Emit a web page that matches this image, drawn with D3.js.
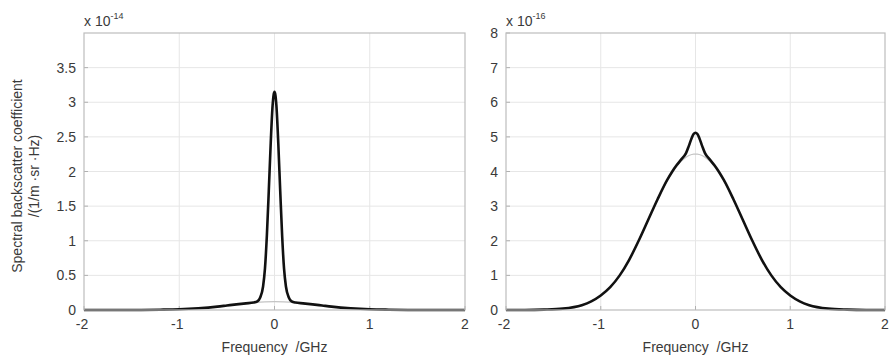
<!DOCTYPE html>
<html>
<head>
<meta charset="utf-8">
<script src="https://cdn.jsdelivr.net/npm/d3@7"></script>
<style>
  body { margin: 0; background: #fff; }
  svg { display: block; font-family: "Liberation Sans", Arial, sans-serif; }
  .tick-label { fill: #3a3a3a; font-size: 14px; }
  .axis-title { fill: #3a3a3a; font-size: 14px; white-space: pre; }
</style>
</head>
<body>
<div id="chart"></div>
<script>
// x ticks shared by both panels (GHz)
const xTicks = [-2, -1, 0, 1, 2];

// left panel (x 1e-14)
const yTicksLeft = [0, 0.5, 1, 1.5, 2, 2.5, 3, 3.5];
const freqLeft = [-2, -1.6, -1.4, -1.2, -1.0, -0.8, -0.6, -0.5, -0.4, -0.3, -0.22, -0.18, -0.15, -0.12, -0.10, -0.08, -0.06, -0.04, -0.02, -0.01, 0,
  0.01, 0.02, 0.04, 0.06, 0.08, 0.10, 0.12, 0.15, 0.18, 0.22, 0.3, 0.4, 0.5, 0.6, 0.8, 1.0, 1.2, 1.4, 1.6, 2];
const totalLeft = [0, 0, 0.001, 0.004, 0.010, 0.025, 0.049, 0.065, 0.081, 0.096, 0.107, 0.125, 0.18, 0.34, 0.60, 1.08, 1.72, 2.40, 2.95, 3.10, 3.15,
  3.10, 2.95, 2.40, 1.72, 1.08, 0.60, 0.34, 0.18, 0.125, 0.107, 0.096, 0.081, 0.065, 0.049, 0.025, 0.010, 0.004, 0.001, 0, 0];
const freqLeftBase = [-0.4, -0.3, -0.2, -0.1, 0, 0.1, 0.2, 0.3, 0.4];
const baseLeft = [0.081, 0.096, 0.109, 0.117, 0.12, 0.117, 0.109, 0.096, 0.081];

// right panel (x 1e-16)
const yTicksRight = [0, 1, 2, 3, 4, 5, 6, 7, 8];
const freqRight = [-2, -1.8, -1.6, -1.4, -1.2, -1.1, -1.0, -0.9, -0.8, -0.7, -0.6, -0.5, -0.4, -0.3, -0.25, -0.2, -0.15, -0.1, -0.07, -0.04, -0.02, 0,
  0.02, 0.04, 0.07, 0.1, 0.15, 0.2, 0.25, 0.3, 0.4, 0.5, 0.6, 0.7, 0.8, 0.9, 1.0, 1.1, 1.2, 1.4, 1.6, 1.8, 2];
const baseRight = [0, 0, 0.01, 0.04, 0.14, 0.25, 0.42, 0.66, 1.00, 1.45, 2.00, 2.60, 3.20, 3.73, 3.95, 4.14, 4.30, 4.41, 4.46, 4.49, 4.50, 4.50,
  4.50, 4.49, 4.46, 4.41, 4.30, 4.14, 3.95, 3.73, 3.20, 2.60, 2.00, 1.45, 1.00, 0.66, 0.42, 0.25, 0.14, 0.04, 0.01, 0, 0];
const totalRight = [0, 0, 0.01, 0.04, 0.14, 0.25, 0.42, 0.66, 1.00, 1.45, 2.00, 2.60, 3.20, 3.75, 3.98, 4.18, 4.35, 4.53, 4.74, 4.97, 5.08, 5.12,
  5.08, 4.97, 4.74, 4.53, 4.35, 4.18, 3.98, 3.75, 3.20, 2.60, 2.00, 1.45, 1.00, 0.66, 0.42, 0.25, 0.14, 0.04, 0.01, 0, 0];

const width = 890, height = 357;
const svg = d3.select('#chart').append('svg')
  .attr('width', width)
  .attr('height', height);

function panel(opt) {
  const x = d3.scaleLinear().domain([-2, 2]).range([opt.left, opt.right]);
  const y = d3.scaleLinear().domain(opt.yDomain).range([310, 33]);
  const g = svg.append('g');

  // grid
  g.append('g').selectAll('line')
    .data(xTicks.slice(1, -1))
    .join('line')
    .attr('x1', d => x(d)).attr('x2', d => x(d))
    .attr('y1', y.range()[0]).attr('y2', y.range()[1])
    .attr('stroke', '#e6e6e6').attr('stroke-width', 1);
  g.append('g').selectAll('line')
    .data(opt.yTicks.filter(d => d > 0 && d < opt.yDomain[1]))
    .join('line')
    .attr('x1', opt.left).attr('x2', opt.right)
    .attr('y1', d => y(d)).attr('y2', d => y(d))
    .attr('stroke', '#e6e6e6').attr('stroke-width', 1);

  // inward tick marks
  const tk = 4;
  g.append('g').selectAll('line')
    .data(xTicks)
    .join('line')
    .attr('x1', d => x(d)).attr('x2', d => x(d))
    .attr('y1', y(0)).attr('y2', y(0) - tk)
    .attr('stroke', '#b0b0b0');
  g.append('g').selectAll('line')
    .data(opt.yTicks)
    .join('line')
    .attr('x1', opt.left).attr('x2', opt.left + tk)
    .attr('y1', d => y(d)).attr('y2', d => y(d))
    .attr('stroke', '#b0b0b0');

  // curves
  const line = d3.line()
    .x(d => x(d[0]))
    .y(d => y(d[1]))
    .curve(d3.curveMonotoneX);

  g.append('path')
    .datum(d3.zip(opt.baseFreq, opt.base))
    .attr('d', line)
    .attr('fill', 'none')
    .attr('stroke', '#c4c4c4')
    .attr('stroke-width', 1.2);

  g.append('path')
    .datum(d3.zip(opt.freq, opt.total))
    .attr('d', line)
    .attr('fill', 'none')
    .attr('stroke', '#111')
    .attr('stroke-width', 2.6)
    .attr('stroke-linejoin', 'round');

  // box
  g.append('rect')
    .attr('x', opt.left).attr('y', 33)
    .attr('width', opt.right - opt.left).attr('height', 310 - 33)
    .attr('fill', 'none')
    .attr('stroke', '#bdbdbd')
    .attr('stroke-width', 1.2);

  // tick labels
  g.append('g').selectAll('text')
    .data(xTicks)
    .join('text')
    .attr('class', 'tick-label')
    .attr('x', d => x(d) - (d < 0 ? 2 : 0))
    .attr('y', 329)
    .attr('text-anchor', 'middle')
    .text(d => d);
  g.append('g').selectAll('text')
    .data(opt.yTicks)
    .join('text')
    .attr('class', 'tick-label')
    .attr('x', opt.left - 8)
    .attr('y', d => y(d) + 5)
    .attr('text-anchor', 'end')
    .text(d => d);

  // exponent
  const ex = g.append('text')
    .attr('class', 'tick-label')
    .attr('x', opt.left)
    .attr('y', 26);
  ex.append('tspan').text('x 10');
  ex.append('tspan')
    .attr('dy', -7)
    .attr('font-size', '9px')
    .text(opt.exponent);

  // x title
  g.append('text')
    .attr('class', 'axis-title')
    .attr('x', x(0))
    .attr('y', 352)
    .attr('text-anchor', 'middle')
    .text('Frequency  /GHz');
}

panel({
  left: 84, right: 465,
  yDomain: [0, 4], yTicks: yTicksLeft, exponent: '-14',
  freq: freqLeft, total: totalLeft,
  baseFreq: freqLeftBase, base: baseLeft
});

panel({
  left: 506, right: 885,
  yDomain: [0, 8], yTicks: yTicksRight, exponent: '-16',
  freq: freqRight, total: totalRight,
  baseFreq: freqRight, base: baseRight
});

// y title (left panel)
const yTitle = svg.append('text')
  .attr('class', 'axis-title')
  .attr('transform', 'translate(22,176) rotate(-90)')
  .attr('text-anchor', 'middle');
yTitle.append('tspan').attr('x', 0).attr('dy', 0).text('Spectral backscatter coefficient');
yTitle.append('tspan').attr('x', 0).attr('dy', 17).text('/(1/m \u00b7sr \u00b7Hz)');
</script>
</body>
</html>
